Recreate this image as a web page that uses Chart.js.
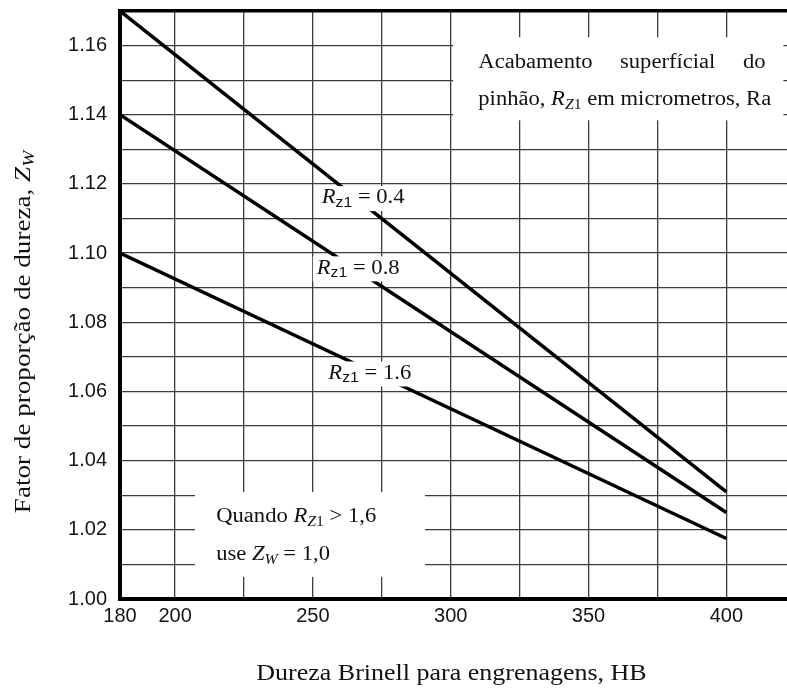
<!DOCTYPE html>
<html>
<head>
<meta charset="utf-8">
<title>Fator de proporção de dureza</title>
<script src="https://cdn.jsdelivr.net/npm/chart.js@4.4.1/dist/chart.umd.min.js"></script>
<style>
  html, body { margin: 0; padding: 0; background: #fff; }
</style>
</head>
<body>
<canvas id="grafico" width="787" height="688"></canvas>
<script>
// Dureza Brinell (HB) nos extremos das retas
const durezaHB = [180, 400];
// Fator Zw lido em cada extremo, por rugosidade Rz1
const zwRz04 = [1.170, 1.031];
const zwRz08 = [1.140, 1.025];
const zwRz16 = [1.100, 1.0175];
const rugosidades = ['0.4', '0.8', '1.6'];

// Marcas dos eixos
const ticksX = [180, 200, 225, 250, 275, 300, 325, 350, 375, 400];
const rotulosX = [180, 200, 250, 300, 350, 400];
const ticksY = [1.00, 1.01, 1.02, 1.03, 1.04, 1.05, 1.06, 1.07, 1.08, 1.09,
                1.10, 1.11, 1.12, 1.13, 1.14, 1.15, 1.16, 1.17];
const rotulosY = ['1.00', '1.02', '1.04', '1.06', '1.08', '1.10', '1.12', '1.14', '1.16'];

// Onde fica cada rótulo das retas (HB, Zw) -> inicio do texto, centro vertical
const posRotulos = [[253.2, 1.1159], [251.4, 1.0956], [255.6, 1.0652]];

const SERIF = '"Liberation Serif", "Times New Roman", serif';
const SANS = '"Liberation Sans", Arial, sans-serif';
const ESTICA = 1.13; // o original está um pouco esticado na horizontal
const COR_GRADE = '#3c3c3c';

function serif(tam, italico) {
    return (italico ? 'italic ' : '') + tam + 'px ' + SERIF;
}

function larguraRuns(ctx, runs) {
    let w = 0;
    for (const r of runs) {
        ctx.font = r.f;
        w += ctx.measureText(r.t).width;
    }
    return w * ESTICA;
}

function desenhaRuns(ctx, runs, x, y) {
    ctx.save();
    ctx.translate(x, y);
    ctx.scale(ESTICA, 1);
    ctx.textBaseline = 'middle';
    ctx.textAlign = 'left';
    ctx.fillStyle = '#111';
    let cx = 0;
    for (const r of runs) {
        ctx.font = r.f;
        ctx.fillText(r.t, cx, r.dy || 0);
        cx += ctx.measureText(r.t).width;
    }
    ctx.restore();
}

// linha justificada: espalha as palavras entre x0 e x1
function desenhaJustificado(ctx, palavras, fonte, x0, x1, y) {
    ctx.save();
    ctx.font = fonte;
    const larg = palavras.map(p => ctx.measureText(p).width * ESTICA);
    const total = larg.reduce((a, b) => a + b, 0);
    const vao = (x1 - x0 - total) / (palavras.length - 1);
    let cx = x0;
    palavras.forEach((p, i) => {
        desenhaRuns(ctx, [{ t: p, f: fonte }], cx, y);
        cx += larg[i] + vao;
    });
    ctx.restore();
}

function caixaBranca(ctx, x0, y0, x1, y1) {
    ctx.save();
    ctx.fillStyle = '#fff';
    ctx.fillRect(x0, y0, x1 - x0, y1 - y0);
    ctx.restore();
}

const pluginRotulos = {
    id: 'rotulos',
    afterDatasetsDraw(chart) {
        const { ctx, chartArea } = chart;
        const x = chart.scales.x;
        const y = chart.scales.y;

        // rótulos sobre as retas
        rugosidades.forEach((rz, i) => {
            const runs = [
                { t: 'R', f: serif(20, true) },
                { t: 'z1', f: '14px ' + SANS, dy: 5 },
                { t: ' = ' + rz, f: serif(20) }
            ];
            const px = x.getPixelForValue(posRotulos[i][0]);
            const py = y.getPixelForValue(posRotulos[i][1]);
            const w = larguraRuns(ctx, runs);
            caixaBranca(ctx, px - 4, py - 12, px + w + 5, py + 13);
            desenhaRuns(ctx, runs, px, py);
        });

        // quadro de cima: acabamento superficial
        caixaBranca(ctx, x.getPixelForValue(300.9), y.getPixelForValue(1.1624),
                    x.getPixelForValue(420.7), y.getPixelForValue(1.1384));
        desenhaJustificado(ctx, ['Acabamento', 'superfícial', 'do'], serif(20),
                           x.getPixelForValue(310), x.getPixelForValue(414.2), y.getPixelForValue(1.1549));
        desenhaRuns(ctx, [
            { t: 'pinhão, ', f: serif(20) },
            { t: 'R', f: serif(20, true) },
            { t: 'Z', f: serif(14, true), dy: 5 },
            { t: '1', f: serif(14), dy: 5 },
            { t: ' em micrometros, Ra', f: serif(20) }
        ], x.getPixelForValue(310), y.getPixelForValue(1.1442));

        // quadro de baixo
        caixaBranca(ctx, x.getPixelForValue(207.2), y.getPixelForValue(1.0309),
                    x.getPixelForValue(290.7), y.getPixelForValue(1.0064));
        desenhaRuns(ctx, [
            { t: 'Quando ', f: serif(20) },
            { t: 'R', f: serif(20, true) },
            { t: 'Z', f: serif(14, true), dy: 5 },
            { t: '1', f: serif(14), dy: 5 },
            { t: ' > 1,6', f: serif(20) }
        ], x.getPixelForValue(214.9), y.getPixelForValue(1.0237));
        desenhaRuns(ctx, [
            { t: 'use ', f: serif(20) },
            { t: 'Z', f: serif(20, true) },
            { t: 'W', f: serif(14, true), dy: 5 },
            { t: ' = 1,0', f: serif(20) }
        ], x.getPixelForValue(214.9), y.getPixelForValue(1.0127));

        // títulos dos eixos
        const tituloX = [{ t: 'Dureza Brinell para engrenagens, HB', f: serif(23) }];
        const wx = larguraRuns(ctx, tituloX);
        desenhaRuns(ctx, tituloX, (chartArea.left + chartArea.right) / 2 - wx / 2 - 2, 674);

        const tituloY = [
            { t: 'Fator de proporção de dureza, ', f: serif(24) },
            { t: 'Z', f: serif(24, true) },
            { t: 'W', f: serif(17, true), dy: 6 }
        ];
        const wy = larguraRuns(ctx, tituloY);
        ctx.save();
        ctx.translate(24, 332);
        ctx.rotate(-Math.PI / 2);
        desenhaRuns(ctx, tituloY, -wy / 2, 0);
        ctx.restore();
    }
};

function pontos(valores) {
    return durezaHB.map((hb, i) => ({ x: hb, y: valores[i] }));
}

const estiloReta = { borderColor: '#000', borderWidth: 3.5, pointRadius: 0, fill: false, tension: 0 };

new Chart(document.getElementById('grafico'), {
    type: 'line',
    data: {
        datasets: [
            { label: 'Rz1 = 0.4', data: pontos(zwRz04), ...estiloReta },
            { label: 'Rz1 = 0.8', data: pontos(zwRz08), ...estiloReta },
            { label: 'Rz1 = 1.6', data: pontos(zwRz16), ...estiloReta }
        ]
    },
    options: {
        responsive: false,
        animation: false,
        events: [],
        layout: { padding: { top: 11, left: 0, right: 0, bottom: 0 } },
        plugins: { legend: { display: false }, tooltip: { enabled: false } },
        scales: {
            x: {
                type: 'linear',
                min: 180,
                max: 422,
                afterFit: s => { s.height = 89; s.paddingLeft = 0; s.paddingRight = 0; },
                afterBuildTicks: s => { s.ticks = ticksX.map(v => ({ value: v })); },
                border: { color: '#000', width: 4 },
                grid: { color: COR_GRADE, lineWidth: 1.3, drawTicks: false },
                ticks: {
                    padding: 5,
                    color: '#151515',
                    font: { family: SANS, size: 20 },
                    maxRotation: 0,
                    autoSkip: false,
                    callback: v => rotulosX.includes(Math.round(v)) ? String(Math.round(v)) : ''
                }
            },
            y: {
                type: 'linear',
                min: 1.00,
                max: 1.17,
                afterFit: s => { s.width = 120; s.paddingTop = 0; s.paddingBottom = 0; },
                afterBuildTicks: s => { s.ticks = ticksY.map(v => ({ value: v })); },
                border: { color: '#000', width: 4 },
                grid: {
                    drawTicks: false,
                    color: c => (c.tick && c.tick.value > 1.165) ? '#000' : COR_GRADE,
                    lineWidth: c => (c.tick && c.tick.value > 1.165) ? 3.5 : 1.3
                },
                ticks: {
                    padding: 13,
                    color: '#151515',
                    font: { family: SANS, size: 20 },
                    autoSkip: false,
                    callback: v => {
                        const txt = v.toFixed(2);
                        return rotulosY.includes(txt) ? txt : '';
                    }
                }
            }
        }
    },
    plugins: [pluginRotulos]
});
</script>
</body>
</html>
